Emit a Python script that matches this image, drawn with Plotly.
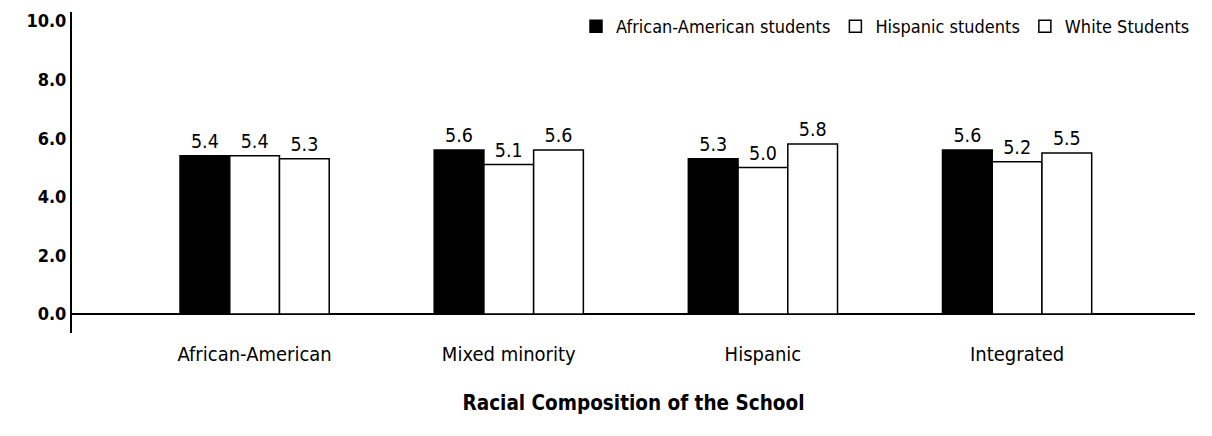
import plotly.graph_objects as go

categories = ["African-American", "Mixed minority", "Hispanic", "Integrated"]
african_american = [5.4, 5.6, 5.3, 5.6]
hispanic = [5.4, 5.1, 5.0, 5.2]
white = [5.3, 5.6, 5.8, 5.5]
y_ticks = [0, 2, 4, 6, 8, 10]
y_tick_labels = ["0.0", "2.0", "4.0", "6.0", "8.0", "10.0"]

FONT = "Liberation Sans Narrow, DejaVu Sans Condensed, Arial Narrow, sans-serif"

series = [
    ("African-American students", african_american, "black"),
    ("Hispanic students", hispanic, "white"),
    ("White Students", white, "white"),
]

fig = go.Figure()
for name, vals, col in series:
    fig.add_trace(go.Bar(
        x=categories, y=vals, name=name,
        marker=dict(color=col, line=dict(color="black", width=1.5)),
        text=[f"{v:.1f}" for v in vals], textposition="outside",
        textfont=dict(family=FONT, size=19.5, color="black"),
        cliponaxis=False,
    ))

fig.update_layout(
    width=1212, height=436,
    margin=dict(l=64, r=25, t=0, b=111),
    paper_bgcolor="white", plot_bgcolor="white",
    barmode="group", bargap=0.413, bargroupgap=0,
    font=dict(family=FONT, size=20, color="black"),
    showlegend=True,
    legend=dict(orientation="h", x=1.0, xanchor="right", y=1.0, yanchor="top",
                font=dict(family=FONT, size=18), traceorder="normal",
                itemwidth=30, bgcolor="rgba(0,0,0,0)"),
    xaxis=dict(range=[-0.7185, 3.70], showline=False, showgrid=False,
               ticks="", tickfont=dict(family=FONT, size=20),
               ticklabelstandoff=7, automargin=False,
               title=dict(text="<b>Racial Composition of the School</b>",
                          font=dict(family=FONT, size=20.5), standoff=30)),
    yaxis=dict(range=[-0.65, 10.31], domain=[0, 0.9877], tickvals=y_ticks,
               ticktext=[f"<b>{t}</b>" for t in y_tick_labels],
               showgrid=False, showline=True, linecolor="black", linewidth=2,
               zeroline=True, zerolinecolor="black", zerolinewidth=2,
               ticks="", ticklen=0, automargin=False,
               tickfont=dict(family=FONT, size=18)),
)

fig.write_html("out.html")
